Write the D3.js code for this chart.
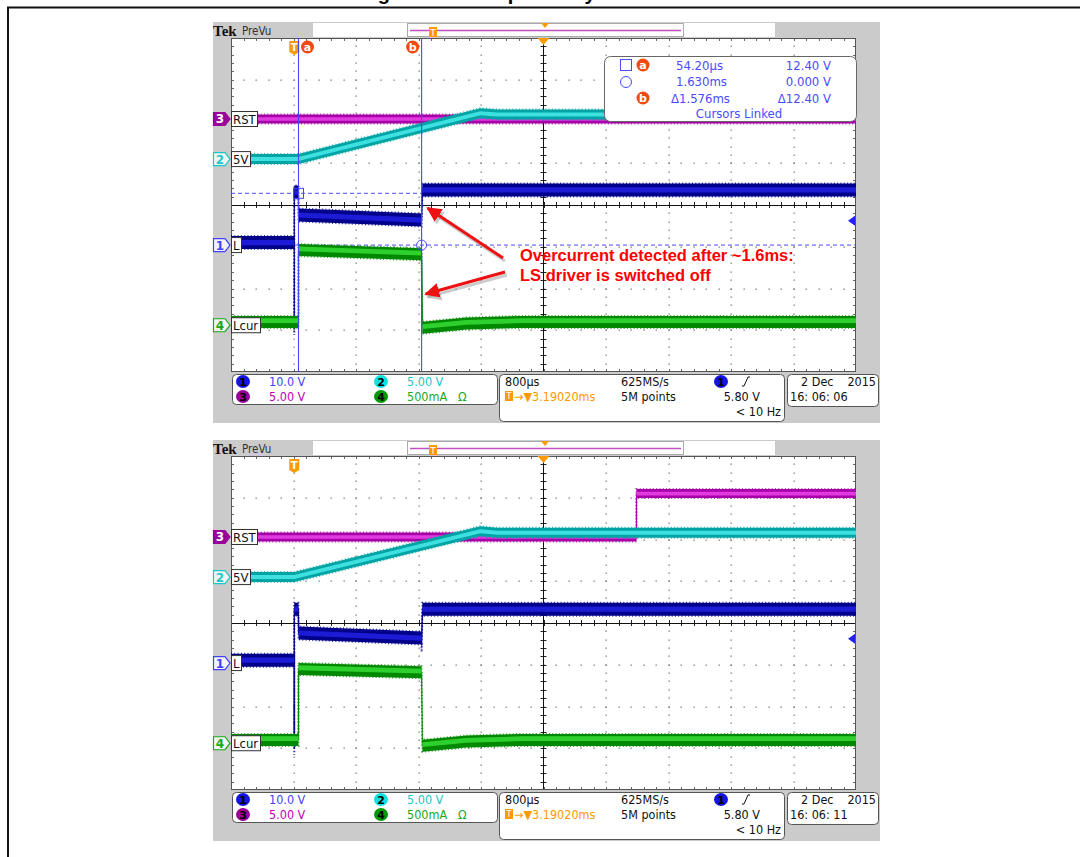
<!DOCTYPE html>
<html><head><meta charset="utf-8">
<script src="https://cdn.jsdelivr.net/npm/d3@7"></script>
<style>
html,body{margin:0;padding:0;background:#fff;}
svg{display:block;}
.tk{font-family:"Liberation Sans Narrow","DejaVu Sans Condensed","Roboto Condensed","Arial Narrow",sans-serif;font-stretch:condensed;}
</style></head><body>
<svg id="c" width="1080" height="857"></svg>
<script>
// ---------------- DATA ----------------
const titleText = "Figure 9: Startup overlay";
const timePerDiv = 0.8;        // ms / div
const triggerPos = 3.1902;     // ms, trigger to screen centre
const chIds = [1, 2, 3, 4];
const chLabels = ["L", "5V", "RST", "Lcur"];
const chPerDiv = [10, 5, 5, 0.5];
const chPosDiv = [-0.96, 1.1, 2.06, -2.88];
const chScaleText = ["10.0 V", "5.00 V", "5.00 V", "500mA"];

// traces: [time (ms), value (V or A)]
const s1_L    = [[-0.81,0.6],[0,0.6],[0,-20],[0,12.7],[0.054,12.7],[0.054,7.2],[1.63,6.0],[1.64,13.2],[7.19,13.2]];
const s1_5V   = [[-0.81,0],[0.054,0],[2.38,5.5],[2.6,5.35],[7.19,5.35]];
const s1_RST  = [[-0.81,0],[7.19,0]];
const s1_Lcur = [[-0.81,0.04],[0.054,0.04],[0.054,0.90],[1.63,0.85],[1.64,-0.03],[2.2,0.02],[2.9,0.04],[7.19,0.04]];

const s2_L    = [[-0.81,0.7],[0,0.7],[0,-20.4],[0,12.9],[0.054,12.9],[0.054,7.2],[1.63,6.0],[1.63,4.2],[1.64,12.9],[7.19,12.9]];
const s2_5V   = [[-0.81,0],[0.0,0],[2.38,5.5],[2.6,5.3],[7.19,5.3]];
const s2_RST  = [[-0.81,0],[4.38,0],[4.38,5.2],[7.19,5.2]];
const s2_Lcur = [[-0.81,0.04],[0.054,0.04],[0.054,0.89],[1.63,0.85],[1.64,-0.03],[2.2,0.02],[2.9,0.04],[7.19,0.04]];

const cursorTimes = [0.0542, 1.630];
const cursorLevels = [12.40, 0.000];
const readoutTimes = ["54.20µs", "1.630ms", "Δ1.576ms"];
const readoutLevels = ["12.40 V", "0.000 V", "Δ12.40 V"];
const timeStamps = ["16: 06: 06", "16: 06: 11"];
const dateDay = "2 Dec", dateYear = "2015";
const timebaseText = "800µs", rateText = "625MS/s", hposText = "3.19020ms";
const pointsText = "5M points", trigLevel = 5.80, trigLevelText = "5.80 V", freqText = "< 10 Hz";
const annotationLines = ["Overcurrent detected after ~1.6ms:", "LS driver is switched off"];

// ---------------- LAYOUT ----------------
const svg = d3.select("#c");
const GL = 231, GR = 856, GT = 38, GB = 372;
const x = d3.scaleLinear().domain([triggerPos - 5*timePerDiv, triggerPos + 5*timePerDiv]).range([GL, GR]);
const yDiv = d3.scaleLinear().domain([-4, 4]).range([GB, GT]);
const yCh = (ci, v) => yDiv(chPosDiv[ci] + v / chPerDiv[ci]);

const chOuter = ["#00008a", "#00a4a4", "#a800a8", "#008800"];
const chInner = ["#1c1cd6", "#3ee0e0", "#e03ae0", "#2ed02e"];
const chHalf  = [6.5, 5, 4.5, 6];
const chText  = ["#4242ff", "#18c8c8", "#c000c0", "#18a818"];
const chBadge = ["#1414e6", "#10e0e0", "#9a009a", "#009a00"];

// title + frame
svg.append("text").attr("x", 360).attr("y", 0).attr("font-family", "Liberation Sans, Arial, sans-serif")
  .attr("font-weight", "bold").attr("font-size", 20).text(titleText);
svg.append("path").attr("d", "M8,857 L8,7.5 L1080,7.5").attr("fill", "none").attr("stroke", "#111").attr("stroke-width", 2);

function drawScope(offset, traces, opts) {
  const g = svg.append("g").attr("transform", `translate(0,${offset})`);
  g.append("rect").attr("x", 213).attr("y", 22).attr("width", 667).attr("height", 401).attr("fill", "#cbcbcb");
  // header
  g.append("text").attr("x", 213).attr("y", 35.5).attr("font-family", "Liberation Serif, serif").attr("font-weight", "bold")
    .attr("font-size", 15).attr("fill", "#111").text("Tek");
  g.append("text").attr("class", "tk").attr("x", 242).attr("y", 35).attr("font-size", 11.5).attr("fill", "#333").text("PreVu");
  g.append("rect").attr("x", 313).attr("y", 23).attr("width", 94).attr("height", 14).attr("fill", "#fff");
  g.append("rect").attr("x", 407.5).attr("y", 23.5).attr("width", 276).attr("height", 13).attr("fill", "#fff").attr("stroke", "#aaa");
  g.append("rect").attr("x", 684).attr("y", 23).attr("width", 91).attr("height", 14).attr("fill", "#fff");
  g.append("line").attr("x1", 410).attr("x2", 681).attr("y1", 30.5).attr("y2", 30.5).attr("stroke", "#c050c0").attr("stroke-width", 1.5);
  g.append("path").attr("d", "M541,23 L549,23 L545,28 Z").attr("fill", "#ff9900");
  const tm = g.append("g").attr("transform", "translate(433,27)");
  tm.append("rect").attr("x", -4).attr("y", 0).attr("width", 8).attr("height", 10).attr("fill", "#ff9900");
  tm.append("text").attr("x", 0).attr("y", 8.5).attr("text-anchor", "middle").attr("font-size", 9).attr("font-family", "DejaVu Sans, sans-serif").attr("fill", "#fff").text("T");

  // graticule
  g.append("rect").attr("x", GL).attr("y", GT).attr("width", GR - GL).attr("height", GB - GT).attr("fill", "#fff");
  const dx = (GR - GL) / 10, dy = (GB - GT) / 8;
  const dots = [];
  d3.range(1, 10).filter(k => k !== 5).forEach(k => d3.range(1, 40).forEach(j => dots.push([GL + k*dx, GT + j*dy/5])));
  d3.range(1, 8).filter(k => k !== 4).forEach(k => d3.range(1, 50).forEach(j => dots.push([GL + j*dx/5, GT + k*dy])));
  g.append("g").selectAll("rect").data(dots).join("rect")
    .attr("x", d => Math.round(d[0]) - 0.5).attr("y", d => Math.round(d[1]) - 0.5).attr("width", 1.3).attr("height", 1.3).attr("fill", "#777");
  const ticks = g.append("g").attr("stroke", "#666").attr("stroke-width", 1);
  d3.range(1, 50).forEach(j => {
    const xx = Math.round(GL + j*dx/5) + 0.5;
    ticks.append("line").attr("x1", xx).attr("x2", xx).attr("y1", GT).attr("y2", GT + 3);
    ticks.append("line").attr("x1", xx).attr("x2", xx).attr("y1", GB - 3).attr("y2", GB);
    ticks.append("line").attr("x1", xx).attr("x2", xx).attr("y1", yDiv(0) - 3).attr("y2", yDiv(0) + 3).attr("stroke", "#222");
  });
  d3.range(1, 40).forEach(j => {
    const yy = Math.round(GT + j*dy/5) + 0.5;
    ticks.append("line").attr("x1", GL).attr("x2", GL + 3).attr("y1", yy).attr("y2", yy);
    ticks.append("line").attr("x1", GR - 3).attr("x2", GR).attr("y1", yy).attr("y2", yy);
    ticks.append("line").attr("x1", x(triggerPos) - 3).attr("x2", x(triggerPos) + 3).attr("y1", yy).attr("y2", yy).attr("stroke", "#222");
  });
  g.append("line").attr("x1", GL).attr("x2", GR).attr("y1", Math.round(yDiv(0)) + 0.5).attr("y2", Math.round(yDiv(0)) + 0.5).attr("stroke", "#111");
  g.append("line").attr("x1", x(triggerPos)).attr("x2", x(triggerPos)).attr("y1", GT).attr("y2", GB).attr("stroke", "#111");
  g.append("rect").attr("x", GL + 0.5).attr("y", GT + 0.5).attr("width", GR - GL - 1).attr("height", GB - GT - 1).attr("fill", "none").attr("stroke", "#555");

  // cursor dashed levels (behind traces)
  if (opts.cursors) {
    cursorLevels.forEach(v => g.append("line").attr("x1", GL).attr("x2", GR).attr("y1", yCh(0, v)).attr("y2", yCh(0, v))
      .attr("stroke", "#4a4aff").attr("stroke-dasharray", "4,3"));
  }

  // traces: order RST, 5V, L, Lcur
  const order = [2, 1, 0, 3];
  const clip = "clip" + offset;
  g.append("clipPath").attr("id", clip).append("rect").attr("x", GL).attr("y", GT).attr("width", GR - GL).attr("height", GB - GT);
  const tg = g.append("g").attr("clip-path", `url(#${clip})`);
  order.forEach(ci => {
    const data = traces[ci];
    const h = chHalf[ci];
    const area = (hh, up) => d3.area().x(d => x(d[0])).y0(d => yCh(ci, d[1]) + hh - up).y1(d => yCh(ci, d[1]) - hh - up);
    tg.append("path").datum(data).attr("d", d3.line().x(d => x(d[0])).y(d => yCh(ci, d[1])))
      .attr("fill", "none").attr("stroke", chOuter[ci]).attr("stroke-width", 1.2);
    tg.append("path").datum(data).attr("d", area(h, 0)).attr("fill", chOuter[ci])
      .attr("stroke", chOuter[ci]).attr("stroke-width", 2).attr("stroke-dasharray", "1,2.3").attr("stroke-opacity", 0.8);
    tg.append("path").datum(data).attr("d", area(h * 0.4, ci === 3 ? 1.2 : 0)).attr("fill", chInner[ci]);
  });

  // channel labels
  chIds.forEach((id, ci) => {
    const yy = yCh(ci, 0);
    const filled = ci === 2;
    g.append("path").attr("d", `M213.5,${yy - 6.5} L225,${yy - 6.5} L230,${yy} L225,${yy + 6.5} L213.5,${yy + 6.5} Z`)
      .attr("fill", filled ? chBadge[ci] : "#f4f4f4").attr("stroke", filled ? chBadge[ci] : chText[ci]).attr("stroke-width", 1.2);
    g.append("text").attr("x", 220).attr("y", yy + 4.5).attr("text-anchor", "middle").attr("font-family", "DejaVu Sans, sans-serif")
      .attr("font-weight", "bold").attr("font-size", 12).attr("fill", filled ? "#fff" : chText[ci]).text(id);
    const box = g.append("rect").attr("x", GL + 0.5).attr("y", yy - 7.5).attr("height", 15).attr("fill", "#fff").attr("stroke", "#333");
    const t = g.append("text").attr("class", "tk").attr("x", GL + 2).attr("y", yy + 5).attr("font-size", 13).attr("fill", "#111").text(chLabels[ci]);
    box.attr("width", Math.ceil(t.node().getComputedTextLength()) + 3);
  });

  // trigger level arrow (ch1)
  const ty = yCh(0, trigLevel);
  g.append("path").attr("d", `M848,${ty} L855,${ty - 5} L855,${ty + 5} Z`).attr("fill", "#2020ff");
  // horizontal position marker
  g.append("path").attr("d", `M${x(triggerPos) - 6},${GT} L${x(triggerPos) + 6},${GT} L${x(triggerPos)},${GT + 7} Z`).attr("fill", "#ff9900");
  // trigger T marker
  const tx = x(0);
  g.append("path").attr("d", `M${tx - 5},${GT + 3} L${tx + 5},${GT + 3} L${tx + 5},${GT + 14} L${tx},${GT + 17} L${tx - 5},${GT + 14} Z`).attr("fill", "#ff9900");
  g.append("text").attr("x", tx).attr("y", GT + 13).attr("text-anchor", "middle").attr("font-family", "DejaVu Sans, sans-serif")
    .attr("font-weight", "bold").attr("font-size", 10).attr("fill", "#fff").text("T");

  if (opts.cursors) {
    cursorTimes.forEach(t => {
      g.append("line").attr("x1", x(t)).attr("x2", x(t)).attr("y1", GT).attr("y2", GB).attr("stroke", "#4646ff").attr("stroke-width", 1.1);
    });
    const ax = x(cursorTimes[0]), ay = yCh(0, cursorLevels[0]);
    g.append("rect").attr("x", ax - 5).attr("y", ay - 5).attr("width", 10).attr("height", 10).attr("fill", "none").attr("stroke", "#4646ff");
    g.append("circle").attr("cx", x(cursorTimes[1])).attr("cy", yCh(0, cursorLevels[1])).attr("r", 5).attr("fill", "none").attr("stroke", "#4646ff");
    const badge = (cx, cy, s) => {
      g.append("circle").attr("cx", cx).attr("cy", cy).attr("r", 6.5).attr("fill", "#f04a10");
      g.append("text").attr("x", cx).attr("y", cy + 4).attr("text-anchor", "middle").attr("font-family", "DejaVu Sans, sans-serif")
        .attr("font-weight", "bold").attr("font-size", 11).attr("fill", "#fff").text(s);
    };
    badge(ax + 9, GT + 9, "a");
    badge(x(cursorTimes[1]) - 9, GT + 9, "b");

    // readout box
    g.append("rect").attr("x", 604.5).attr("y", 56.5).attr("width", 252).attr("height", 65).attr("rx", 6).attr("fill", "#fff").attr("stroke", "#666");
    const rc = "#4a4aff";
    g.append("rect").attr("x", 620.5).attr("y", 59.5).attr("width", 11).attr("height", 11).attr("fill", "none").attr("stroke", rc);
    g.append("circle").attr("cx", 626).attr("cy", 82).attr("r", 5.5).attr("fill", "none").attr("stroke", rc);
    [["a", 65], ["b", 98]].forEach(([s, cy]) => {
      g.append("circle").attr("cx", 643).attr("cy", cy).attr("r", 6.5).attr("fill", "#f04a10");
      g.append("text").attr("x", 643).attr("y", cy + 4).attr("text-anchor", "middle").attr("font-family", "DejaVu Sans, sans-serif")
        .attr("font-weight", "bold").attr("font-size", 11).attr("fill", "#fff").text(s);
    });
    const rows = [69.5, 86, 102.5];
    rows.forEach((yy, i) => {
      g.append("text").attr("class", "tk").attr("x", i === 2 ? 671 : 676).attr("y", yy).attr("font-size", 13).attr("fill", rc).text(readoutTimes[i]);
      g.append("text").attr("class", "tk").attr("x", 831).attr("y", yy).attr("text-anchor", "end").attr("font-size", 13).attr("fill", rc).text(readoutLevels[i]);
    });
    g.append("text").attr("class", "tk").attr("x", 739).attr("y", 118).attr("text-anchor", "middle").attr("font-size", 13).attr("fill", rc).text("Cursors Linked");
  }

  // status bar
  const sb = g.append("g");
  sb.append("rect").attr("x", 232.5).attr("y", 374.5).attr("width", 265).attr("height", 30).attr("rx", 4).attr("fill", "#fff").attr("stroke", "#555");
  sb.append("rect").attr("x", 499.5).attr("y", 374.5).attr("width", 285).attr("height", 47).attr("rx", 4).attr("fill", "#fff").attr("stroke", "#555");
  sb.append("rect").attr("x", 787.5).attr("y", 374.5).attr("width", 91).attr("height", 32).attr("rx", 4).attr("fill", "#fff").attr("stroke", "#555");
  const r1 = 386, r2 = 401, r3 = 416;
  const chBadgePos = [[243, r1], [381, r1], [243, r2], [381, r2]];
  chIds.forEach((id, ci) => {
    const [bx, by] = chBadgePos[ci];
    sb.append("ellipse").attr("cx", bx).attr("cy", by - 4.5).attr("rx", 7).attr("ry", 6.5).attr("fill", chBadge[ci]);
    sb.append("text").attr("x", bx).attr("y", by - 0.5).attr("text-anchor", "middle").attr("font-family", "DejaVu Sans, sans-serif")
      .attr("font-weight", "bold").attr("font-size", 11).attr("fill", "#000").text(id);
    sb.append("text").attr("class", "tk").attr("x", bx + 26).attr("y", by).attr("font-size", 12.5).attr("fill", chText[ci]).text(chScaleText[ci]);
  });
  sb.append("text").attr("class", "tk").attr("x", 458).attr("y", r2).attr("font-size", 12.5).attr("fill", chText[3]).text("Ω");
  const st = (xx, yy, s, col, anchor) => sb.append("text").attr("class", "tk").attr("x", xx).attr("y", yy).attr("font-size", 12.5)
    .attr("fill", col || "#111").attr("text-anchor", anchor || "start").text(s);
  st(505, r1, timebaseText); st(621, r1, rateText);
  sb.append("ellipse").attr("cx", 721).attr("cy", r1 - 4.5).attr("rx", 7).attr("ry", 6.5).attr("fill", chBadge[0]);
  sb.append("text").attr("x", 721).attr("y", r1 - 0.5).attr("text-anchor", "middle").attr("font-family", "DejaVu Sans, sans-serif")
    .attr("font-weight", "bold").attr("font-size", 11).attr("fill", "#000").text("1");
  sb.append("path").attr("d", `M742,${r1} L744,${r1} L748,${r1 - 9} L750,${r1 - 9}`).attr("fill", "none").attr("stroke", "#111");
  sb.append("rect").attr("x", 505).attr("y", r2 - 10).attr("width", 8).attr("height", 10).attr("fill", "#ff9900");
  sb.append("text").attr("x", 509).attr("y", r2 - 2).attr("text-anchor", "middle").attr("font-size", 8).attr("font-family", "DejaVu Sans, sans-serif").attr("fill", "#fff").text("T");
  st(514, r2, "→▼" + hposText, "#ff9900");
  st(621, r2, pointsText);
  st(760, r2, trigLevelText, null, "end");
  st(781, r3, freqText, null, "end");
  st(801, r1, dateDay); st(876, r1, dateYear, null, "end");
  st(790, r2, opts.stamp);
}

drawScope(0, [s1_L, s1_5V, s1_RST, s1_Lcur], {cursors: true, stamp: timeStamps[0]});
drawScope(418, [s2_L, s2_5V, s2_RST, s2_Lcur], {cursors: false, stamp: timeStamps[1]});

// annotation
const defs = svg.append("defs");
defs.append("marker").attr("id", "ah").attr("viewBox", "0 0 10 10").attr("refX", 9).attr("refY", 5)
  .attr("markerWidth", 5).attr("markerHeight", 5).attr("orient", "auto")
  .append("path").attr("d", "M0,0 L10,5 L0,10 Z").attr("fill", "#ee1111");
defs.append("marker").attr("id", "ahs").attr("viewBox", "0 0 10 10").attr("refX", 9).attr("refY", 5)
  .attr("markerWidth", 5).attr("markerHeight", 5).attr("orient", "auto")
  .append("path").attr("d", "M0,0 L10,5 L0,10 Z").attr("fill", "#999").attr("opacity", 0.5);
const arrows = [[[503, 258], [x(cursorTimes[1]) + 6, 208]], [[505, 272], [x(cursorTimes[1]) + 4, 294]]];
arrows.forEach(([a, b]) => {
  svg.append("line").attr("x1", a[0] + 2).attr("y1", a[1] + 3).attr("x2", b[0] + 2).attr("y2", b[1] + 3)
    .attr("stroke", "#999").attr("stroke-opacity", 0.5).attr("stroke-width", 3).attr("marker-end", "url(#ahs)");
  svg.append("line").attr("x1", a[0]).attr("y1", a[1]).attr("x2", b[0]).attr("y2", b[1])
    .attr("stroke", "#ee1111").attr("stroke-width", 3).attr("marker-end", "url(#ah)");
});
annotationLines.forEach((s, i) => {
  svg.append("text").attr("x", 520).attr("y", 261 + i * 20).attr("font-family", "Liberation Sans, Arial, sans-serif")
    .attr("font-weight", "bold").attr("font-size", 16.5).attr("fill", "#ff0000").text(s);
});
</script></body></html>
